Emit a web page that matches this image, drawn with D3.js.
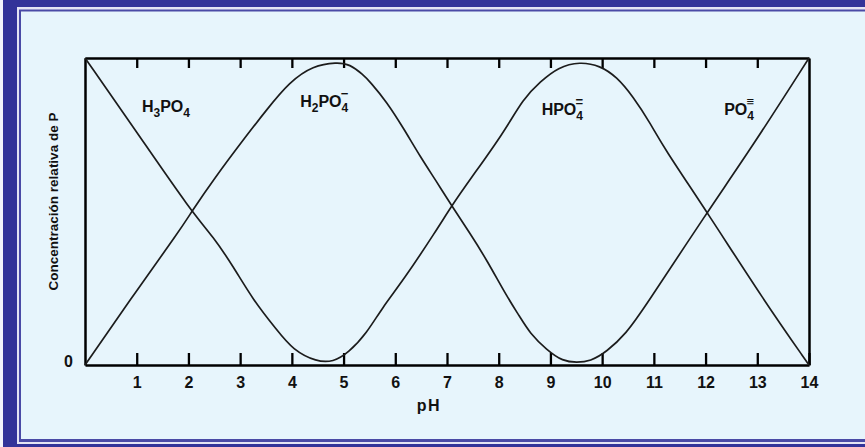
<!DOCTYPE html>
<html><head><meta charset="utf-8">
<script src="https://cdn.jsdelivr.net/npm/d3@7"></script>
<style>html,body{margin:0;padding:0;background:#fff;overflow:hidden}</style>
</head><body><svg id="c" width="865" height="447"></svg>
<script>
// ---- data ----
const phTicks = [1,2,3,4,5,6,7,8,9,10,11,12,13,14];
const topTicks = [1,2,3,4,5,6,7,8,9,10,11,12,13];
// curve starting at top-left (H3PO4 -> HPO4=)
const curveA_pH   = [0,1.0,2.06,2.48,2.87,3.25,3.71,4.02,4.48,4.80,5.09,5.45,5.74,6.16,6.80,7.08,7.44,8.09,8.48,8.80,9.15,9.57,9.96,10.28,10.60,10.93,11.18,12.03,13.12,14];
const curveA_conc = [1,0.759,0.499,0.418,0.320,0.212,0.114,0.049,0.010,0.010,0.039,0.104,0.185,0.277,0.440,0.516,0.603,0.755,0.869,0.922,0.970,0.988,0.975,0.939,0.874,0.788,0.711,0.498,0.212,0];
// curve starting at bottom-left (H2PO4- -> PO4≡)
const curveB_pH   = [0,0.87,1.84,2.06,2.48,3.13,3.51,3.96,4.41,4.87,5.12,5.38,5.51,5.83,6.16,6.48,6.80,7.08,7.44,7.77,8.15,8.41,8.60,8.93,9.24,9.51,9.77,10.09,10.47,10.79,12.03,12.86,14];
const curveB_conc = [0,0.212,0.440,0.499,0.603,0.749,0.831,0.923,0.975,0.986,0.980,0.945,0.923,0.858,0.771,0.679,0.597,0.521,0.430,0.342,0.225,0.157,0.104,0.049,0.012,0.008,0.012,0.043,0.104,0.179,0.498,0.700,1];
// species labels: [base, subscript, base, subscript, superscript]
const speciesLabels = [
  {parts:["H","3","PO","4",""]},
  {parts:["H","2","PO","4","−"]},
  {parts:["HPO","","","4","="]},
  {parts:["PO","","","4","≡"]}
];
const speciesPH   = [1.10, 4.16, 8.83, 12.36];
const speciesConc = [0.824, 0.840, 0.814, 0.814];
const xTitle = "pH";
const yTitle = "Concentración relativa de P";

// ---- drawing ----
const svg = d3.select("#c");
const W = 865, H = 447;

// frame
svg.append("rect").attr("x",0).attr("y",0).attr("width",W).attr("height",H).attr("fill","#f4f4fb");
svg.append("rect").attr("x",3).attr("y",-10).attr("width",W+20).attr("height",H+20).attr("fill","#333399");
svg.append("rect").attr("x",17).attr("y",7).attr("width",W+20).attr("height",437).attr("fill","#e4e4f4");
svg.append("rect").attr("x",19).attr("y",9.5).attr("width",W+20).attr("height",432.5).attr("fill","#4a4aa6");
svg.append("rect").attr("x",21).attr("y",11.5).attr("width",W+20).attr("height",427.5).attr("fill","#e7f5fc");

const x = d3.scaleLinear().domain([0,14]).range([85,809]);
const y = d3.scaleLinear().domain([0,1]).range([365,58]);

const font = "'Liberation Sans', Arial, Helvetica, sans-serif";

function styleAxis(g){
  g.selectAll("path.domain").attr("stroke","#000").attr("stroke-width",2.5);
  g.selectAll(".tick line").attr("stroke","#000").attr("stroke-width",2.3);
  g.selectAll(".tick text").attr("fill","#111").attr("font-family",font).attr("font-weight","bold").attr("font-size",16);
}

// bottom axis
const gB = svg.append("g").attr("transform",`translate(0,${y(0)})`)
  .call(d3.axisBottom(x).tickValues(phTicks).tickSizeInner(-12).tickSizeOuter(0).tickPadding(12).tickFormat(d3.format("d")));
styleAxis(gB);
// top axis
const gT = svg.append("g").attr("transform",`translate(0,${y(1)})`)
  .call(d3.axisTop(x).tickValues(topTicks).tickSizeInner(-10).tickSizeOuter(0).tickFormat(""));
styleAxis(gT);
// left axis
const gL = svg.append("g").attr("transform",`translate(${x(0)},0)`)
  .call(d3.axisLeft(y).tickValues([0]).tickSize(0).tickPadding(12).tickFormat(d3.format("d")));
styleAxis(gL);
gL.selectAll(".tick text").attr("dy","0.1em");
// right axis
const gR = svg.append("g").attr("transform",`translate(${x(14)},0)`)
  .call(d3.axisRight(y).tickValues([]).tickSizeOuter(0));
styleAxis(gR);

// curves
const line = d3.line().x(d=>x(d[0])).y(d=>y(d[1])).curve(d3.curveBasis);
const A = curveA_pH.map((p,i)=>[p,curveA_conc[i]]);
const B = curveB_pH.map((p,i)=>[p,curveB_conc[i]]);
[A,B].forEach(data=>{
  svg.append("path").datum(data).attr("d",line)
    .attr("fill","none").attr("stroke","#1c1c1c").attr("stroke-width",1.7).attr("stroke-linejoin","round");
});

// species labels
speciesLabels.forEach((s,i)=>{
  const t = svg.append("text").attr("x",x(speciesPH[i])).attr("y",y(speciesConc[i]))
    .attr("font-family",font).attr("font-weight","bold").attr("font-size",16).attr("fill","#111");
  const [b1,s1,b2,s2,sup] = s.parts;
  t.append("tspan").text(b1);
  let shift = 0;
  if(s1){ t.append("tspan").attr("font-size",12).attr("dy",5).text(s1); shift=5; }
  if(b2){ t.append("tspan").attr("dy",-shift).text(b2); shift=0; }
  t.append("tspan").attr("font-size",12).attr("dy",5-shift).text(s2);
  if(sup){ t.append("tspan").attr("font-size",13).attr("dx",-7.5).attr("dy",-14).text(sup); }
});

// axis titles
svg.append("text").attr("x",429).attr("y",411).attr("text-anchor","middle")
  .attr("font-family",font).attr("font-weight","bold").attr("font-size",16).attr("letter-spacing",1.5).attr("fill","#111").text(xTitle);
svg.append("text").attr("transform","translate(58,201.5) rotate(-90)").attr("text-anchor","middle")
  .attr("font-family",font).attr("font-weight","bold").attr("font-size",13.5).attr("fill","#111").text(yTitle);
</script>
</body></html>
